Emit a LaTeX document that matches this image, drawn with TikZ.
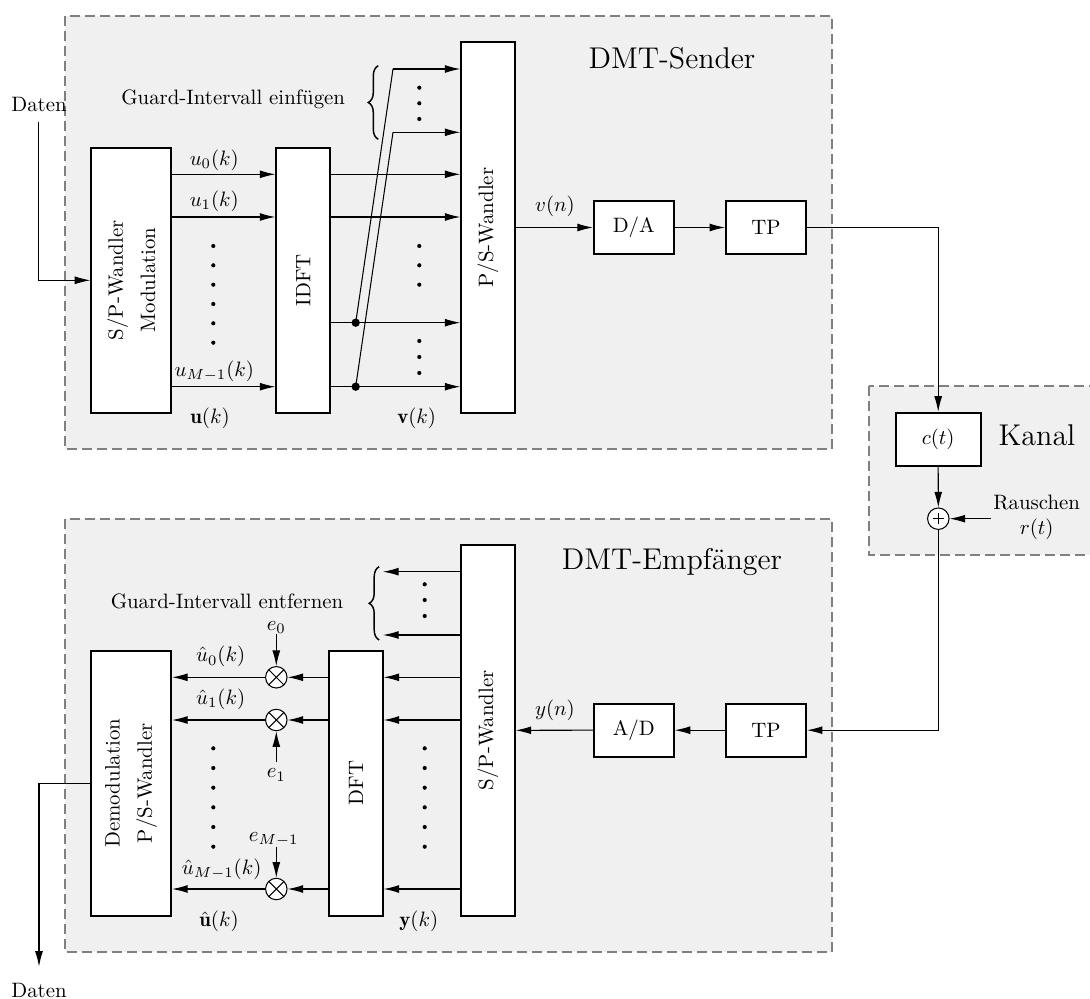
\documentclass[tikz,border=0pt]{standalone}
\usepackage{fontspec}
\usetikzlibrary{arrows.meta,decorations.pathreplacing,calc}
\definecolor{panel}{RGB}{240,240,240}
\definecolor{frame}{RGB}{128,128,128}
\begin{document}
\begin{tikzpicture}[x=0.48pt,y=-0.48pt,
  arr/.style={-{Latex[length=7.5pt,width=3.8pt]}},
  conn/.style={line width=0.5pt},
  block/.style={draw,fill=white,line width=0.9pt,inner sep=0pt},
  panelbox/.style={fill=panel,draw=frame,line width=0.75pt,dash pattern=on 4.6pt off 2.6pt},
  junction/.style={fill,circle,inner sep=0pt,minimum size=4pt},
  twoline/.style={font=\fontsize{10}{15.5}\selectfont,rotate=90,align=center},
  bigtitle/.style={font=\Large},
  lbl/.style={inner sep=1pt},
  mult/.style={circle,draw,fill=white,line width=0.5pt,minimum size=10.3pt,inner sep=0pt,
    path picture={\draw[line width=0.5pt] (path picture bounding box.north west)--(path picture bounding box.south east)
      (path picture bounding box.north east)--(path picture bounding box.south west);}},
  adder/.style={circle,draw,fill=white,line width=0.5pt,minimum size=10.3pt,inner sep=0pt,
    path picture={\draw[line width=0.5pt] ($(path picture bounding box.center)+(-2.7pt,0)$)--($(path picture bounding box.center)+(2.7pt,0)$)
      ($(path picture bounding box.center)+(0,-2.7pt)$)--($(path picture bounding box.center)+(0,2.7pt)$);}},
  gbrace/.style={decorate,decoration={brace,amplitude=4.8pt},line width=0.7pt}
]
\useasboundingbox (0,0) rectangle (1090,999);

% panels
\draw[panelbox] (65,16) rectangle (832,449);
\draw[panelbox] (65,519) rectangle (832,952);
\draw[panelbox] (869,386) rectangle (1100,555);

% ---------- Sender ----------
\node[bigtitle] (sendtitle) at (672,58.3) {DMT-Sender};
\node[block,minimum width=38.3pt,minimum height=127pt] (sp) at (131.2,280.3) {};
\node[twoline] (sptxt) at (sp.center) {S/P-Wandler\\Modulation};
\node[block,minimum width=25.8pt,minimum height=127pt] (idft) at (303.2,280.3) {};
\node[rotate=90] (idfttxt) at (idft.center) {IDFT};
\node[block,minimum width=25.6pt,minimum height=177.8pt] (ps) at (488,227.5) {};
\node[rotate=90] (pstxt) at (ps.center) {P/S-Wandler};
\node[block,minimum width=38.3pt,minimum height=25.4pt] (da) at (633.8,227.5) {D/A};
\node[block,minimum width=38.3pt,minimum height=25.4pt] (tp1) at (766,227.5) {TP};

\node (din) at (39,105) {Daten};
\coordinate (dinstart) at (38.5,121.7);
\draw[conn,arr] (dinstart) |- (sp.west);

\foreach \yy in {174.3,217,386.7}
  \draw[conn,arr] (sp.east |- 0,\yy) -- (idft.west |- 0,\yy);
\foreach \yy in {174.3,217,322.7,386.7}
  \draw[conn,arr] (idft.east |- 0,\yy) -- (ps.west |- 0,\yy);

\node[lbl] (u0) at (214.3,160) {$u_0(k)$};
\node[lbl] (u1) at (214.3,201) {$u_1(k)$};
\node[lbl] (uM) at (214.3,371) {$u_{M-1}(k)$};
\node[lbl] (ubold) at (210,418) {$\mathbf{u}(k)$};
\node[lbl] (vbold) at (416.7,418.3) {$\mathbf{v}(k)$};

\node[junction] (j1) at (355.7,322.7) {};
\node[junction] (j2) at (355.7,386.7) {};
\coordinate (g1) at (393,69);
\coordinate (g2) at (393,132.3);
\draw[conn] (j1.center) -- (g1);
\draw[conn,arr] (g1) -- (ps.west |- g1);
\draw[conn] (j2.center) -- (g2);
\draw[conn,arr] (g2) -- (ps.west |- g2);

\node (guard1) at (233.2,99.5) {Guard-Intervall einfügen};
\draw[gbrace] (378.3,139.3) -- (378.3,65.7);

\foreach \yy in {246,265.3,284.7,304,323.3,342.7}
  \fill (213.3,\yy) circle (1pt);
\foreach \yy in {246,265.3,284.7,341,357,373,87.7,103.3,119}
  \fill (419.3,\yy) circle (1pt);

\node[lbl] (vn) at (555,206.7) {$v(n)$};
\draw[conn,arr] (ps.east) -- (da.west);
\draw[conn,arr] (da.east) -- (tp1.west);

% ---------- Kanal ----------
\node[block,minimum width=40.8pt,minimum height=25.4pt] (ct) at (938.2,439.2) {$c(t)$};
\node[bigtitle] (kanal) at (1037,435) {Kanal};
\node[adder] (plus) at (938.3,518.7) {};
\node[inner sep=0pt] (rausch) at (1036.7,502.3) {Rauschen};
\node[inner sep=0pt] (rt) at (1036.7,529) {$r(t)$};
\coordinate (rs) at (990.7,518.7);
\draw[conn,arr] (tp1.east) -| (ct.north);
\draw[conn,arr] (ct.south) -- (plus.north);
\draw[conn,arr] (rs) -- (plus.east);

% ---------- Empfaenger ----------
\node[bigtitle] (rectitle) at (672,561.7) {DMT-Empfänger};
\node[block,minimum width=25.6pt,minimum height=178pt] (sp2) at (488,730.3) {};
\node[rotate=90] (sp2txt) at (sp2.center) {S/P-Wandler};
\node[block,minimum width=25.6pt,minimum height=127.2pt] (dft) at (356,783.2) {};
\node[rotate=90] (dfttxt) at (dft.center) {DFT};
\node[block,minimum width=38.3pt,minimum height=127.2pt] (demod) at (131.2,783.2) {};
\node[twoline] (demodtxt) at (demod.center) {Demodulation\\P/S-Wandler};
\node[block,minimum width=38.3pt,minimum height=25.4pt] (ad) at (633.8,730.2) {A/D};
\node[block,minimum width=38.3pt,minimum height=25.4pt] (tp2) at (766,730.2) {TP};

\draw[conn,arr] (plus.south) |- (tp2.east);
\draw[conn,arr] (tp2.west) -- (ad.east);
\draw[conn,arr] (ad.west) -- (sp2.east);
\node[lbl] (yn) at (555,710) {$y(n)$};

\coordinate (h1) at (383,571.7);
\coordinate (h2) at (383,635);
\draw[conn,arr] (sp2.west |- h1) -- (h1);
\draw[conn,arr] (sp2.west |- h2) -- (h2);
\node (guard2) at (227,601.7) {Guard-Intervall entfernen};
\draw[gbrace] (379.2,640) -- (379.2,566.7);

\foreach \yy in {677.3,720,889}
  \draw[conn,arr] (sp2.west |- 0,\yy) -- (dft.east |- 0,\yy);

\node[mult] (m0) at (276.3,677.3) {};
\node[mult] (m1) at (276.3,720) {};
\node[mult] (m2) at (276.3,889) {};
\foreach \m in {m0,m1,m2}{
  \draw[conn,arr] (dft.west |- \m) -- (\m.east);
  \draw[conn,arr] (\m.west) -- (demod.east |- \m);
}

\node[inner sep=0pt] (e0) at (276.3,627.7) {$e_0$};
\node[inner sep=0pt] (e1) at (276.3,775) {$e_1$};
\node[inner sep=0pt] (eM) at (273.7,839.3) {$e_{M-1}$};
\draw[conn,arr] (e0.south -| m0) -- (m0.north);
\draw[conn,arr] ([yshift=3pt]e1.north) -- (m1.south);
\draw[conn,arr] (eM.south -| m2) -- (m2.north);

\node[lbl] (uh0) at (220.7,656.7) {$\hat{u}_0(k)$};
\node[lbl] (uh1) at (220.7,699.3) {$\hat{u}_1(k)$};
\node[lbl] (uhM) at (221.7,869.3) {$\hat{u}_{M-1}(k)$};
\node[lbl] (uhbold) at (219,921.7) {$\hat{\mathbf{u}}(k)$};
\node[lbl] (ybold) at (418.8,921.7) {$\mathbf{y}(k)$};

\foreach \yy in {748.3,768,787.7,807.3,827,846.7}{
  \fill (213.3,\yy) circle (1pt);
  \fill (424.7,\yy) circle (1pt);
}
\foreach \yy in {584.3,600,616}
  \fill (424.7,\yy) circle (1pt);

\coordinate (dout) at (39,966.7);
\draw[conn,arr] (demod.west) -| (dout);
\node (doutlbl) at (39,990) {Daten};
\end{tikzpicture}
\end{document}
